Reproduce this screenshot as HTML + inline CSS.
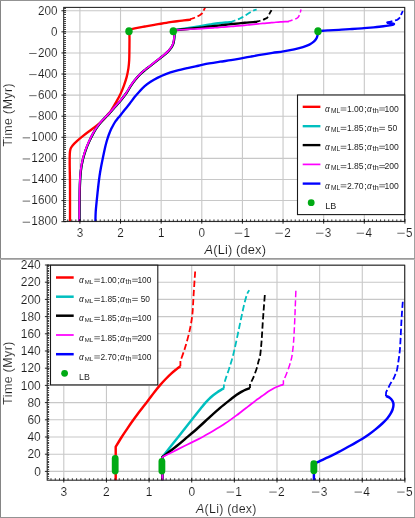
<!DOCTYPE html>
<html><head><meta charset="utf-8"><title>A(Li) vs Time</title>
<style>html,body{margin:0;padding:0;background:#fff;overflow:hidden;}svg{display:block;will-change:transform;}.thin{stroke:#fff;stroke-width:0.12px;paint-order:fill stroke;}</style></head>
<body>
<svg width="415" height="518" viewBox="0 0 415 518" font-family="Liberation Sans, sans-serif" fill="#000">
<rect x="0" y="0" width="415" height="518" fill="#fff"/>
<rect x="63.7" y="7.4" width="341.0" height="214.0" fill="#fff"/>
<path d="M79.90,7.4V221.4M120.53,7.4V221.4M161.16,7.4V221.4M201.79,7.4V221.4M242.42,7.4V221.4M283.05,7.4V221.4M323.68,7.4V221.4M364.31,7.4V221.4M404.94,7.4V221.4M63.7,10.76H404.7M63.7,31.85H404.7M63.7,52.94H404.7M63.7,74.03H404.7M63.7,95.12H404.7M63.7,116.21H404.7M63.7,137.30H404.7M63.7,158.39H404.7M63.7,179.48H404.7M63.7,200.57H404.7M63.7,221.66H404.7" stroke="#c8c8c8" stroke-width="1.1" fill="none"/>
<clipPath id="ct"><rect x="63.7" y="7.4" width="341.0" height="214.0"/></clipPath>
<g clip-path="url(#ct)" fill="none" stroke-linecap="butt" stroke-linejoin="round">
<path d="M129.40,31.50 C129.42,32.92 129.50,36.92 129.50,40.00 C129.50,43.08 129.45,46.67 129.40,50.00 C129.35,53.33 129.37,56.93 129.20,60.00 C129.03,63.07 128.82,65.58 128.40,68.40 C127.98,71.22 127.43,74.08 126.70,76.90 C125.97,79.72 125.02,82.50 124.00,85.30 C122.98,88.10 121.92,90.88 120.60,93.70 C119.28,96.52 117.70,99.38 116.10,102.20 C114.50,105.02 112.47,108.47 111.00,110.60 C109.53,112.73 108.77,113.28 107.30,115.00 C105.83,116.72 104.03,119.07 102.20,120.90 C100.37,122.73 98.42,124.32 96.30,126.00 C94.18,127.68 91.75,129.32 89.50,131.00 C87.25,132.68 84.90,134.42 82.80,136.10 C80.70,137.78 78.60,139.55 76.90,141.10 C75.20,142.65 73.65,144.13 72.60,145.40 C71.55,146.67 71.07,147.30 70.60,148.70 C70.13,150.10 69.95,150.98 69.80,153.80 C69.65,156.62 69.67,160.40 69.70,165.60 C69.73,170.80 69.95,175.60 70.00,185.00 C70.05,194.40 70.00,215.83 70.00,222.00" stroke="#ff0000" stroke-width="2.35"/>
<path d="M129.35,31.85 L129.35,29.46 C130.26,29.28 133.02,28.73 134.78,28.39 C136.55,28.05 138.25,27.72 139.93,27.40 C141.61,27.08 143.22,26.77 144.89,26.47 C146.55,26.16 148.19,25.87 149.94,25.57 C151.68,25.27 153.54,24.97 155.37,24.67 C157.19,24.36 159.07,24.04 160.89,23.73 C162.72,23.42 164.50,23.10 166.32,22.80 C168.15,22.50 170.07,22.21 171.85,21.94 C173.63,21.68 175.27,21.45 177.00,21.22 C178.73,20.99 180.51,20.76 182.24,20.56 C183.97,20.36 185.92,20.16 187.38,20.01 C188.84,19.86 190.40,19.71 191.00,19.65" stroke="#ff0000" stroke-width="2.35"/>
<path d="M191.00,19.65L191.00,18.96 L191.00,18.96 C191.24,18.89 191.62,18.81 192.43,18.51 C193.24,18.21 194.64,17.71 195.86,17.15 C197.09,16.60 198.69,15.83 199.77,15.17 C200.85,14.51 201.71,13.93 202.34,13.18 C202.98,12.42 203.12,11.56 203.58,10.64 C204.04,9.72 204.85,8.15 205.11,7.65" stroke="#ff0000" stroke-width="1.8" stroke-dasharray="6.0 2.7" stroke-dashoffset="1.0"/>
<path d="M174.30,31.62 C174.32,32.34 174.45,34.47 174.40,35.92 C174.35,37.37 174.22,38.95 174.00,40.32 C173.78,41.69 173.58,42.85 173.10,44.12 C172.62,45.39 171.88,46.75 171.10,47.92 C170.32,49.09 169.48,50.00 168.40,51.12 C167.32,52.24 166.02,53.42 164.60,54.62 C163.18,55.82 161.55,57.02 159.90,58.32 C158.25,59.62 156.40,61.09 154.70,62.42 C153.00,63.75 151.28,65.09 149.70,66.32 C148.12,67.55 146.82,68.47 145.20,69.82 C143.58,71.17 141.73,72.67 140.00,74.42 C138.27,76.17 136.37,78.35 134.80,80.32 C133.23,82.29 132.00,84.10 130.60,86.22 C129.20,88.34 127.95,90.77 126.40,93.02 C124.85,95.27 123.13,97.47 121.30,99.72 C119.47,101.97 117.50,104.12 115.40,106.52 C113.30,108.92 110.87,111.79 108.70,114.12 C106.53,116.45 104.30,118.39 102.40,120.52 C100.50,122.65 98.85,124.74 97.30,126.92 C95.75,129.10 94.50,131.09 93.10,133.62 C91.70,136.15 90.17,139.30 88.90,142.12 C87.63,144.94 86.48,147.72 85.50,150.52 C84.52,153.32 83.70,156.10 83.00,158.92 C82.30,161.74 81.73,164.60 81.30,167.42 C80.87,170.24 80.63,172.87 80.40,175.82 C80.17,178.77 80.03,181.07 79.90,185.12 C79.77,189.17 79.67,193.95 79.60,200.12 C79.53,206.29 79.52,218.45 79.50,222.12" stroke="#00bfbf" stroke-width="2.35"/>
<path d="M173.85,31.85 L173.85,30.21 C176.36,29.83 184.52,28.62 188.91,27.93 C193.29,27.25 197.15,26.58 200.15,26.09 C203.15,25.60 205.11,25.28 206.92,24.99 C208.73,24.69 209.74,24.53 211.01,24.33 C212.28,24.12 213.35,23.95 214.54,23.78 C215.73,23.60 216.92,23.44 218.16,23.28 C219.40,23.13 220.69,22.98 221.97,22.84 C223.26,22.71 224.64,22.57 225.88,22.46 C227.12,22.35 228.31,22.26 229.40,22.18 C230.50,22.10 231.94,22.01 232.45,21.97" stroke="#00bfbf" stroke-width="2.35"/>
<path d="M232.45,21.97L232.45,21.47 L232.45,21.47 C232.75,21.35 233.44,21.07 234.26,20.75 C235.09,20.43 236.46,19.93 237.41,19.56 C238.36,19.18 239.12,18.89 239.98,18.49 C240.84,18.09 241.60,17.69 242.55,17.15 C243.51,16.60 244.67,15.86 245.70,15.22 C246.73,14.57 247.71,13.93 248.75,13.29 C249.78,12.65 250.92,11.90 251.89,11.37 C252.86,10.84 253.77,10.41 254.56,10.12 C255.35,9.84 256.31,9.71 256.66,9.63" stroke="#00bfbf" stroke-width="1.8" stroke-dasharray="6.0 2.7" stroke-dashoffset="2.3"/>
<path d="M174.30,31.62 C174.32,32.34 174.45,34.47 174.40,35.92 C174.35,37.37 174.22,38.95 174.00,40.32 C173.78,41.69 173.58,42.85 173.10,44.12 C172.62,45.39 171.88,46.75 171.10,47.92 C170.32,49.09 169.48,50.00 168.40,51.12 C167.32,52.24 166.02,53.42 164.60,54.62 C163.18,55.82 161.55,57.02 159.90,58.32 C158.25,59.62 156.40,61.09 154.70,62.42 C153.00,63.75 151.28,65.09 149.70,66.32 C148.12,67.55 146.82,68.47 145.20,69.82 C143.58,71.17 141.73,72.67 140.00,74.42 C138.27,76.17 136.37,78.35 134.80,80.32 C133.23,82.29 132.00,84.10 130.60,86.22 C129.20,88.34 127.95,90.77 126.40,93.02 C124.85,95.27 123.13,97.47 121.30,99.72 C119.47,101.97 117.50,104.12 115.40,106.52 C113.30,108.92 110.87,111.79 108.70,114.12 C106.53,116.45 104.30,118.39 102.40,120.52 C100.50,122.65 98.85,124.74 97.30,126.92 C95.75,129.10 94.50,131.09 93.10,133.62 C91.70,136.15 90.17,139.30 88.90,142.12 C87.63,144.94 86.48,147.72 85.50,150.52 C84.52,153.32 83.70,156.10 83.00,158.92 C82.30,161.74 81.73,164.60 81.30,167.42 C80.87,170.24 80.63,172.87 80.40,175.82 C80.17,178.77 80.03,181.07 79.90,185.12 C79.77,189.17 79.67,193.95 79.60,200.12 C79.53,206.29 79.52,218.45 79.50,222.12" stroke="#000000" stroke-width="2.35"/>
<path d="M173.85,31.85 L173.85,30.21 C176.12,30.00 183.49,29.34 187.48,28.96 C191.46,28.58 194.32,28.28 197.77,27.92 C201.22,27.55 204.71,27.16 208.16,26.77 C211.60,26.37 215.00,25.95 218.45,25.55 C221.89,25.15 225.39,24.74 228.83,24.36 C232.28,23.99 236.49,23.57 239.12,23.30 C241.76,23.03 242.92,22.90 244.65,22.75 C246.38,22.59 248.06,22.47 249.51,22.37 C250.95,22.26 252.02,22.19 253.32,22.12 C254.62,22.05 256.66,21.97 257.32,21.94" stroke="#000000" stroke-width="2.35"/>
<path d="M257.32,21.94L257.32,21.45 L257.32,21.45 C257.80,21.33 259.13,21.06 260.18,20.75 C261.23,20.43 262.72,19.91 263.61,19.56 C264.50,19.20 264.96,18.88 265.52,18.61 C266.07,18.35 266.47,18.40 266.95,17.97 C267.42,17.54 267.96,16.73 268.38,16.04 C268.79,15.35 269.07,14.53 269.42,13.84 C269.77,13.16 270.12,12.54 270.47,11.91 C270.82,11.29 271.35,10.40 271.52,10.10" stroke="#000000" stroke-width="1.8" stroke-dasharray="6.0 2.7" stroke-dashoffset="2.3"/>
<path d="M174.10,31.50 C174.12,32.22 174.25,34.35 174.20,35.80 C174.15,37.25 174.02,38.83 173.80,40.20 C173.58,41.57 173.38,42.73 172.90,44.00 C172.42,45.27 171.68,46.63 170.90,47.80 C170.12,48.97 169.28,49.88 168.20,51.00 C167.12,52.12 165.82,53.30 164.40,54.50 C162.98,55.70 161.35,56.90 159.70,58.20 C158.05,59.50 156.20,60.97 154.50,62.30 C152.80,63.63 151.08,64.97 149.50,66.20 C147.92,67.43 146.62,68.35 145.00,69.70 C143.38,71.05 141.53,72.55 139.80,74.30 C138.07,76.05 136.17,78.23 134.60,80.20 C133.03,82.17 131.80,83.98 130.40,86.10 C129.00,88.22 127.75,90.65 126.20,92.90 C124.65,95.15 122.93,97.35 121.10,99.60 C119.27,101.85 117.30,104.00 115.20,106.40 C113.10,108.80 110.67,111.67 108.50,114.00 C106.33,116.33 104.10,118.27 102.20,120.40 C100.30,122.53 98.65,124.62 97.10,126.80 C95.55,128.98 94.30,130.97 92.90,133.50 C91.50,136.03 89.97,139.18 88.70,142.00 C87.43,144.82 86.28,147.60 85.30,150.40 C84.32,153.20 83.50,155.98 82.80,158.80 C82.10,161.62 81.53,164.48 81.10,167.30 C80.67,170.12 80.43,172.75 80.20,175.70 C79.97,178.65 79.83,180.95 79.70,185.00 C79.57,189.05 79.47,193.83 79.40,200.00 C79.33,206.17 79.32,218.33 79.30,222.00" stroke="#ff00ff" stroke-width="1.8499999999999999"/>
<path d="M173.85,31.85 L173.85,30.21 C176.12,30.08 183.49,29.64 187.48,29.40 C191.46,29.16 194.32,28.99 197.77,28.79 C201.22,28.58 205.38,28.34 208.16,28.17 C210.93,28.00 212.60,27.89 214.44,27.76 C216.29,27.63 217.62,27.54 219.21,27.42 C220.80,27.30 222.38,27.17 223.97,27.05 C225.56,26.92 227.15,26.80 228.74,26.67 C230.33,26.54 231.91,26.41 233.50,26.28 C235.09,26.14 236.44,26.03 238.27,25.86 C240.09,25.69 242.66,25.46 244.46,25.28 C246.25,25.11 247.51,24.98 249.03,24.83 C250.56,24.68 252.08,24.53 253.61,24.38 C255.13,24.22 256.66,24.06 258.18,23.91 C259.70,23.76 261.34,23.60 262.75,23.47 C264.17,23.34 265.25,23.24 266.66,23.11 C268.07,22.98 269.69,22.83 271.23,22.68 C272.77,22.54 274.36,22.39 275.90,22.27 C277.44,22.14 278.95,22.02 280.48,21.92 C282.00,21.83 283.61,21.75 285.05,21.68 C286.50,21.61 288.47,21.55 289.15,21.52" stroke="#ff00ff" stroke-width="1.7"/>
<path d="M289.15,21.52L289.15,20.98 L289.15,20.98 C289.48,20.90 290.29,20.75 291.15,20.49 C292.01,20.23 293.45,19.74 294.29,19.42 C295.14,19.11 295.69,18.85 296.20,18.61 C296.71,18.37 296.91,18.35 297.34,17.97 C297.77,17.59 298.36,17.01 298.77,16.32 C299.19,15.63 299.53,14.63 299.82,13.84 C300.11,13.06 300.28,12.35 300.49,11.64 C300.69,10.92 300.96,9.90 301.06,9.56" stroke="#ff00ff" stroke-width="1.5" stroke-dasharray="6.0 2.7" stroke-dashoffset="1.9"/>
<path d="M318.20,31.62 C318.12,32.13 317.97,33.61 317.70,34.70 C317.43,35.78 317.25,36.98 316.60,38.15 C315.95,39.32 315.00,40.64 313.80,41.71 C312.60,42.78 311.22,43.68 309.40,44.58 C307.58,45.47 305.43,46.32 302.90,47.10 C300.37,47.89 297.45,48.58 294.20,49.30 C290.95,50.01 287.02,50.78 283.40,51.39 C279.78,51.99 276.12,52.36 272.50,52.90 C268.88,53.44 265.32,53.99 261.70,54.60 C258.08,55.21 254.42,55.89 250.80,56.56 C247.18,57.23 243.32,57.99 240.00,58.60 C236.68,59.21 234.22,59.68 230.90,60.20 C227.58,60.72 223.72,61.16 220.10,61.70 C216.48,62.24 212.82,62.77 209.20,63.44 C205.58,64.11 202.02,64.96 198.40,65.73 C194.78,66.50 191.12,67.24 187.50,68.08 C183.88,68.91 180.32,69.72 176.70,70.73 C173.08,71.74 169.02,72.93 165.80,74.13 C162.58,75.33 159.93,76.63 157.40,77.92 C154.87,79.20 152.72,80.46 150.60,81.84 C148.48,83.22 146.52,84.63 144.70,86.19 C142.88,87.75 141.38,89.38 139.70,91.20 C138.02,93.02 136.28,95.00 134.60,97.10 C132.92,99.20 131.28,101.65 129.60,103.80 C127.92,105.95 126.02,108.10 124.50,110.00 C122.98,111.90 121.65,113.77 120.50,115.20 C119.35,116.63 118.42,117.60 117.60,118.60 C116.78,119.60 116.32,120.13 115.60,121.20 C114.88,122.27 114.00,123.77 113.30,125.00 C112.60,126.23 112.03,127.27 111.40,128.60 C110.77,129.93 110.07,131.57 109.50,133.00 C108.93,134.43 108.50,135.70 108.00,137.20 C107.50,138.70 106.97,140.37 106.50,142.00 C106.03,143.63 105.78,144.47 105.20,147.00 C104.62,149.53 103.70,153.82 103.00,157.20 C102.30,160.58 101.57,164.22 101.00,167.30 C100.43,170.38 100.03,172.75 99.60,175.70 C99.17,178.65 98.87,180.95 98.40,185.00 C97.93,189.05 97.25,195.50 96.80,200.00 C96.35,204.50 95.93,208.33 95.70,212.00 C95.47,215.67 95.45,220.33 95.40,222.00" stroke="#0000ff" stroke-width="2.35"/>
<path d="M318.21,31.85 L318.21,31.01 C319.00,30.96 321.37,30.83 322.97,30.73 C324.58,30.64 326.07,30.55 327.83,30.45 C329.60,30.35 331.26,30.26 333.55,30.13 C335.84,30.00 338.87,29.83 341.56,29.66 C344.24,29.50 346.97,29.30 349.65,29.13 C352.34,28.95 355.26,28.77 357.66,28.60 C360.06,28.44 361.90,28.32 364.04,28.16 C366.19,28.00 368.38,27.82 370.52,27.63 C372.67,27.43 374.76,27.22 376.91,27.00 C379.05,26.78 381.53,26.50 383.39,26.28 C385.24,26.05 386.74,25.86 388.06,25.66 C389.37,25.46 390.44,25.26 391.30,25.08 C392.15,24.89 392.74,24.74 393.20,24.56 C393.66,24.38 394.06,24.16 394.06,23.98 C394.06,23.81 393.80,23.68 393.20,23.53 C392.60,23.38 391.50,23.22 390.44,23.11 C389.37,23.01 387.42,22.94 386.82,22.90" stroke="#0000ff" stroke-width="2.35"/>
<path d="M386.82,22.90L387.01,22.44 L387.01,22.44 C387.32,22.36 388.20,22.15 388.91,21.97 C389.63,21.79 390.42,21.56 391.30,21.36 C392.17,21.16 393.38,20.95 394.15,20.76 C394.93,20.57 395.42,20.38 395.96,20.21 C396.50,20.03 396.90,19.99 397.39,19.70 C397.89,19.42 398.46,18.91 398.92,18.49 C399.38,18.07 399.82,17.68 400.16,17.17 C400.49,16.66 400.70,16.00 400.92,15.44 C401.14,14.89 401.28,14.38 401.49,13.87 C401.70,13.36 401.92,12.86 402.16,12.40 C402.40,11.93 402.79,11.31 402.92,11.09" stroke="#0000ff" stroke-width="1.8" stroke-dasharray="6.0 2.7" stroke-dashoffset="0.0"/>
</g>
<ellipse cx="129.0" cy="31.3" rx="3.7" ry="4.0" fill="#00aa14"/>
<ellipse cx="173.3" cy="31.3" rx="3.7" ry="4.0" fill="#00aa14"/>
<ellipse cx="318.0" cy="31.3" rx="3.7" ry="4.0" fill="#00aa14"/>
<rect x="63.7" y="7.4" width="341.0" height="214.0" fill="none" stroke="#222" stroke-width="1.05"/>
<path d="M79.90,219.0V223.70000000000002M120.53,219.0V223.70000000000002M161.16,219.0V223.70000000000002M201.79,219.0V223.70000000000002M242.42,219.0V223.70000000000002M283.05,219.0V223.70000000000002M323.68,219.0V223.70000000000002M364.31,219.0V223.70000000000002M404.94,219.0V223.70000000000002M61.400000000000006,10.76H66.10000000000001M61.400000000000006,31.85H66.10000000000001M61.400000000000006,52.94H66.10000000000001M61.400000000000006,74.03H66.10000000000001M61.400000000000006,95.12H66.10000000000001M61.400000000000006,116.21H66.10000000000001M61.400000000000006,137.30H66.10000000000001M61.400000000000006,158.39H66.10000000000001M61.400000000000006,179.48H66.10000000000001M61.400000000000006,200.57H66.10000000000001M61.400000000000006,221.66H66.10000000000001" stroke="#111" stroke-width="0.9" fill="none"/>
<path d="M67.71,219.4V221.4M71.77,219.4V221.4M75.84,219.4V221.4M79.90,219.4V221.4M83.96,219.4V221.4M88.03,219.4V221.4M92.09,219.4V221.4M96.15,219.4V221.4M100.22,219.4V221.4M104.28,219.4V221.4M108.34,219.4V221.4M112.40,219.4V221.4M116.47,219.4V221.4M120.53,219.4V221.4M124.59,219.4V221.4M128.66,219.4V221.4M132.72,219.4V221.4M136.78,219.4V221.4M140.85,219.4V221.4M144.91,219.4V221.4M148.97,219.4V221.4M153.03,219.4V221.4M157.10,219.4V221.4M161.16,219.4V221.4M165.22,219.4V221.4M169.29,219.4V221.4M173.35,219.4V221.4M177.41,219.4V221.4M181.48,219.4V221.4M185.54,219.4V221.4M189.60,219.4V221.4M193.66,219.4V221.4M197.73,219.4V221.4M201.79,219.4V221.4M205.85,219.4V221.4M209.92,219.4V221.4M213.98,219.4V221.4M218.04,219.4V221.4M222.11,219.4V221.4M226.17,219.4V221.4M230.23,219.4V221.4M234.29,219.4V221.4M238.36,219.4V221.4M242.42,219.4V221.4M246.48,219.4V221.4M250.55,219.4V221.4M254.61,219.4V221.4M258.67,219.4V221.4M262.74,219.4V221.4M266.80,219.4V221.4M270.86,219.4V221.4M274.92,219.4V221.4M278.99,219.4V221.4M283.05,219.4V221.4M287.11,219.4V221.4M291.18,219.4V221.4M295.24,219.4V221.4M299.30,219.4V221.4M303.37,219.4V221.4M307.43,219.4V221.4M311.49,219.4V221.4M315.55,219.4V221.4M319.62,219.4V221.4M323.68,219.4V221.4M327.74,219.4V221.4M331.81,219.4V221.4M335.87,219.4V221.4M339.93,219.4V221.4M344.00,219.4V221.4M348.06,219.4V221.4M352.12,219.4V221.4M356.18,219.4V221.4M360.25,219.4V221.4M364.31,219.4V221.4M368.37,219.4V221.4M372.44,219.4V221.4M376.50,219.4V221.4M380.56,219.4V221.4M384.62,219.4V221.4M388.69,219.4V221.4M392.75,219.4V221.4M396.81,219.4V221.4M400.88,219.4V221.4" stroke="#111" stroke-width="0.8" fill="none"/>
<path d="M63.7,8.5H66.0M63.7,10.5H66.0M63.7,12.5H66.0M63.7,14.5H66.0M63.7,17.5H66.0M63.7,19.5H66.0M63.7,21.5H66.0M63.7,23.5H66.0M63.7,25.5H66.0M63.7,27.5H66.0M63.7,29.5H66.0M63.7,31.5H66.0M63.7,33.5H66.0M63.7,36.5H66.0M63.7,38.5H66.0M63.7,40.5H66.0M63.7,42.5H66.0M63.7,44.5H66.0M63.7,46.5H66.0M63.7,48.5H66.0M63.7,50.5H66.0M63.7,52.5H66.0M63.7,55.5H66.0M63.7,57.5H66.0M63.7,59.5H66.0M63.7,61.5H66.0M63.7,63.5H66.0M63.7,65.5H66.0M63.7,67.5H66.0M63.7,69.5H66.0M63.7,71.5H66.0M63.7,74.5H66.0M63.7,76.5H66.0M63.7,78.5H66.0M63.7,80.5H66.0M63.7,82.5H66.0M63.7,84.5H66.0M63.7,86.5H66.0M63.7,88.5H66.0M63.7,90.5H66.0M63.7,93.5H66.0M63.7,95.5H66.0M63.7,97.5H66.0M63.7,99.5H66.0M63.7,101.5H66.0M63.7,103.5H66.0M63.7,105.5H66.0M63.7,107.5H66.0M63.7,109.5H66.0M63.7,111.5H66.0M63.7,114.5H66.0M63.7,116.5H66.0M63.7,118.5H66.0M63.7,120.5H66.0M63.7,122.5H66.0M63.7,124.5H66.0M63.7,126.5H66.0M63.7,128.5H66.0M63.7,130.5H66.0M63.7,133.5H66.0M63.7,135.5H66.0M63.7,137.5H66.0M63.7,139.5H66.0M63.7,141.5H66.0M63.7,143.5H66.0M63.7,145.5H66.0M63.7,147.5H66.0M63.7,149.5H66.0M63.7,152.5H66.0M63.7,154.5H66.0M63.7,156.5H66.0M63.7,158.5H66.0M63.7,160.5H66.0M63.7,162.5H66.0M63.7,164.5H66.0M63.7,166.5H66.0M63.7,168.5H66.0M63.7,171.5H66.0M63.7,173.5H66.0M63.7,175.5H66.0M63.7,177.5H66.0M63.7,179.5H66.0M63.7,181.5H66.0M63.7,183.5H66.0M63.7,185.5H66.0M63.7,187.5H66.0M63.7,190.5H66.0M63.7,192.5H66.0M63.7,194.5H66.0M63.7,196.5H66.0M63.7,198.5H66.0M63.7,200.5H66.0M63.7,202.5H66.0M63.7,204.5H66.0M63.7,206.5H66.0M63.7,209.5H66.0M63.7,211.5H66.0M63.7,213.5H66.0M63.7,215.5H66.0M63.7,217.5H66.0M63.7,219.5H66.0" stroke="#333" stroke-width="0.9" fill="none"/>
<text transform="translate(76.63,236.50) scale(0.955,1)" font-size="12.3" fill="#1c1c1c" class="thin">3</text>
<text transform="translate(117.26,236.50) scale(0.955,1)" font-size="12.3" fill="#1c1c1c" class="thin">2</text>
<text transform="translate(157.89,236.50) scale(0.955,1)" font-size="12.3" fill="#1c1c1c" class="thin">1</text>
<text transform="translate(198.52,236.50) scale(0.955,1)" font-size="12.3" fill="#1c1c1c" class="thin">0</text>
<line x1="234.80" y1="233.24" x2="242.20" y2="233.24" stroke="#1c1c1c" stroke-width="0.66"/>
<text transform="translate(243.50,236.50) scale(0.955,1)" font-size="12.3" fill="#1c1c1c" class="thin">1</text>
<line x1="275.43" y1="233.24" x2="282.83" y2="233.24" stroke="#1c1c1c" stroke-width="0.66"/>
<text transform="translate(284.13,236.50) scale(0.955,1)" font-size="12.3" fill="#1c1c1c" class="thin">2</text>
<line x1="316.06" y1="233.24" x2="323.46" y2="233.24" stroke="#1c1c1c" stroke-width="0.66"/>
<text transform="translate(324.76,236.50) scale(0.955,1)" font-size="12.3" fill="#1c1c1c" class="thin">3</text>
<line x1="356.69" y1="233.24" x2="364.09" y2="233.24" stroke="#1c1c1c" stroke-width="0.66"/>
<text transform="translate(365.39,236.50) scale(0.955,1)" font-size="12.3" fill="#1c1c1c" class="thin">4</text>
<line x1="397.32" y1="233.24" x2="404.72" y2="233.24" stroke="#1c1c1c" stroke-width="0.66"/>
<text transform="translate(406.02,236.50) scale(0.955,1)" font-size="12.3" fill="#1c1c1c" class="thin">5</text>
<text transform="translate(37.90,14.57) scale(0.955,1)" font-size="12.3" fill="#1c1c1c" class="thin">200</text>
<text transform="translate(50.97,35.66) scale(0.955,1)" font-size="12.3" fill="#1c1c1c" class="thin">0</text>
<line x1="29.20" y1="53.49" x2="36.60" y2="53.49" stroke="#1c1c1c" stroke-width="0.66"/>
<text transform="translate(37.90,56.74) scale(0.955,1)" font-size="12.3" fill="#1c1c1c" class="thin">200</text>
<line x1="29.20" y1="74.58" x2="36.60" y2="74.58" stroke="#1c1c1c" stroke-width="0.66"/>
<text transform="translate(37.90,77.84) scale(0.955,1)" font-size="12.3" fill="#1c1c1c" class="thin">400</text>
<line x1="29.20" y1="95.67" x2="36.60" y2="95.67" stroke="#1c1c1c" stroke-width="0.66"/>
<text transform="translate(37.90,98.93) scale(0.955,1)" font-size="12.3" fill="#1c1c1c" class="thin">600</text>
<line x1="29.20" y1="116.76" x2="36.60" y2="116.76" stroke="#1c1c1c" stroke-width="0.66"/>
<text transform="translate(37.90,120.02) scale(0.955,1)" font-size="12.3" fill="#1c1c1c" class="thin">800</text>
<line x1="22.67" y1="137.85" x2="30.07" y2="137.85" stroke="#1c1c1c" stroke-width="0.66"/>
<text transform="translate(31.37,141.11) scale(0.955,1)" font-size="12.3" fill="#1c1c1c" class="thin">1000</text>
<line x1="22.67" y1="158.94" x2="30.07" y2="158.94" stroke="#1c1c1c" stroke-width="0.66"/>
<text transform="translate(31.37,162.20) scale(0.955,1)" font-size="12.3" fill="#1c1c1c" class="thin">1200</text>
<line x1="22.67" y1="180.03" x2="30.07" y2="180.03" stroke="#1c1c1c" stroke-width="0.66"/>
<text transform="translate(31.37,183.28) scale(0.955,1)" font-size="12.3" fill="#1c1c1c" class="thin">1400</text>
<line x1="22.67" y1="201.12" x2="30.07" y2="201.12" stroke="#1c1c1c" stroke-width="0.66"/>
<text transform="translate(31.37,204.38) scale(0.955,1)" font-size="12.3" fill="#1c1c1c" class="thin">1600</text>
<line x1="22.67" y1="222.21" x2="30.07" y2="222.21" stroke="#1c1c1c" stroke-width="0.66"/>
<text transform="translate(31.37,225.47) scale(0.955,1)" font-size="12.3" fill="#1c1c1c" class="thin">1800</text>
<text x="235.3" y="254.4" font-size="12.8" text-anchor="middle" letter-spacing="0.17" fill="#1c1c1c" class="thin"><tspan font-style="italic">A</tspan>(Li) (dex)</text>
<text transform="translate(11.8,114.7) rotate(-90)" font-size="12.4" text-anchor="middle" letter-spacing="0.4" fill="#1c1c1c" class="thin">Time (Myr)</text>
<rect x="297.5" y="95.0" width="107.19999999999999" height="119.6" fill="#fff" stroke="#1a1a1a" stroke-width="1.1"/>
<line x1="302.7" y1="106.8" x2="320.4" y2="106.8" stroke="#ff0000" stroke-width="2.35"/>
<g fill="#1c1c1c">
<text x="325.00" y="111.80" font-size="8.20" font-style="italic">α</text>
<text x="330.90" y="112.80" font-size="6.30" textLength="9.20" lengthAdjust="spacingAndGlyphs">ML</text>
<path d="M340.67,107.95H346.37M340.67,110.05H346.37" stroke="#1c1c1c" stroke-width="0.62" fill="none"/>
<text x="346.88" y="111.80" font-size="8.55">1.00</text>
<text x="364.19" y="111.80" font-size="8.55">;</text>
<text x="366.94" y="111.80" font-size="8.20" font-style="italic">α</text>
<text x="372.44" y="112.80" font-size="6.62" textLength="6.40" lengthAdjust="spacingAndGlyphs">th</text>
<path d="M379.26,107.95H384.96M379.26,110.05H384.96" stroke="#1c1c1c" stroke-width="0.62" fill="none"/>
<text x="398.80" y="111.80" font-size="8.55" text-anchor="end">100</text>
</g>
<line x1="302.7" y1="126.2" x2="320.4" y2="126.2" stroke="#00bfbf" stroke-width="2.35"/>
<g fill="#1c1c1c">
<text x="325.00" y="131.20" font-size="8.20" font-style="italic">α</text>
<text x="330.90" y="132.20" font-size="6.30" textLength="9.20" lengthAdjust="spacingAndGlyphs">ML</text>
<path d="M340.67,127.35H346.37M340.67,129.45H346.37" stroke="#1c1c1c" stroke-width="0.62" fill="none"/>
<text x="346.88" y="131.20" font-size="8.55">1.85</text>
<text x="364.19" y="131.20" font-size="8.55">;</text>
<text x="366.94" y="131.20" font-size="8.20" font-style="italic">α</text>
<text x="372.44" y="132.20" font-size="6.62" textLength="6.40" lengthAdjust="spacingAndGlyphs">th</text>
<path d="M379.26,127.35H384.96M379.26,129.45H384.96" stroke="#1c1c1c" stroke-width="0.62" fill="none"/>
<text x="397.38" y="131.20" font-size="8.55" text-anchor="end">50</text>
</g>
<line x1="302.7" y1="145.1" x2="320.4" y2="145.1" stroke="#000000" stroke-width="2.35"/>
<g fill="#1c1c1c">
<text x="325.00" y="150.10" font-size="8.20" font-style="italic">α</text>
<text x="330.90" y="151.10" font-size="6.30" textLength="9.20" lengthAdjust="spacingAndGlyphs">ML</text>
<path d="M340.67,146.25H346.37M340.67,148.35H346.37" stroke="#1c1c1c" stroke-width="0.62" fill="none"/>
<text x="346.88" y="150.10" font-size="8.55">1.85</text>
<text x="364.19" y="150.10" font-size="8.55">;</text>
<text x="366.94" y="150.10" font-size="8.20" font-style="italic">α</text>
<text x="372.44" y="151.10" font-size="6.62" textLength="6.40" lengthAdjust="spacingAndGlyphs">th</text>
<path d="M379.26,146.25H384.96M379.26,148.35H384.96" stroke="#1c1c1c" stroke-width="0.62" fill="none"/>
<text x="398.80" y="150.10" font-size="8.55" text-anchor="end">100</text>
</g>
<line x1="302.7" y1="164.4" x2="320.4" y2="164.4" stroke="#ff00ff" stroke-width="1.7"/>
<g fill="#1c1c1c">
<text x="325.00" y="169.40" font-size="8.20" font-style="italic">α</text>
<text x="330.90" y="170.40" font-size="6.30" textLength="9.20" lengthAdjust="spacingAndGlyphs">ML</text>
<path d="M340.67,165.55H346.37M340.67,167.65H346.37" stroke="#1c1c1c" stroke-width="0.62" fill="none"/>
<text x="346.88" y="169.40" font-size="8.55">1.85</text>
<text x="364.19" y="169.40" font-size="8.55">;</text>
<text x="366.94" y="169.40" font-size="8.20" font-style="italic">α</text>
<text x="372.44" y="170.40" font-size="6.62" textLength="6.40" lengthAdjust="spacingAndGlyphs">th</text>
<path d="M379.26,165.55H384.96M379.26,167.65H384.96" stroke="#1c1c1c" stroke-width="0.62" fill="none"/>
<text x="398.80" y="169.40" font-size="8.55" text-anchor="end">200</text>
</g>
<line x1="302.7" y1="183.6" x2="320.4" y2="183.6" stroke="#0000ff" stroke-width="2.35"/>
<g fill="#1c1c1c">
<text x="325.00" y="188.60" font-size="8.20" font-style="italic">α</text>
<text x="330.90" y="189.60" font-size="6.30" textLength="9.20" lengthAdjust="spacingAndGlyphs">ML</text>
<path d="M340.67,184.75H346.37M340.67,186.85H346.37" stroke="#1c1c1c" stroke-width="0.62" fill="none"/>
<text x="346.88" y="188.60" font-size="8.55">2.70</text>
<text x="364.19" y="188.60" font-size="8.55">;</text>
<text x="366.94" y="188.60" font-size="8.20" font-style="italic">α</text>
<text x="372.44" y="189.60" font-size="6.62" textLength="6.40" lengthAdjust="spacingAndGlyphs">th</text>
<path d="M379.26,184.75H384.96M379.26,186.85H384.96" stroke="#1c1c1c" stroke-width="0.62" fill="none"/>
<text x="398.80" y="188.60" font-size="8.55" text-anchor="end">100</text>
</g>
<circle cx="311.2" cy="202.7" r="3.4" fill="#00aa14"/>
<text x="325.2" y="209.00" font-size="8.98" fill="#1c1c1c">LB</text>
<rect x="47.2" y="265.2" width="357.5" height="215.0" fill="#fff"/>
<path d="M63.80,265.2V480.2M106.44,265.2V480.2M149.08,265.2V480.2M191.72,265.2V480.2M234.36,265.2V480.2M277.00,265.2V480.2M319.64,265.2V480.2M362.28,265.2V480.2M404.92,265.2V480.2M47.2,265.00H404.7M47.2,282.20H404.7M47.2,299.40H404.7M47.2,316.60H404.7M47.2,333.80H404.7M47.2,351.00H404.7M47.2,368.20H404.7M47.2,385.40H404.7M47.2,402.60H404.7M47.2,419.80H404.7M47.2,437.00H404.7M47.2,454.20H404.7M47.2,471.40H404.7" stroke="#c8c8c8" stroke-width="1.1" fill="none"/>
<clipPath id="cb"><rect x="47.2" y="265.2" width="357.5" height="215.0"/></clipPath>
<g clip-path="url(#cb)" fill="none" stroke-linecap="butt" stroke-linejoin="round">
<path d="M115.70,481.00 L115.70,446.90 L115.70,446.90 C116.65,445.33 119.55,440.42 121.40,437.50 C123.25,434.58 125.03,432.02 126.80,429.40 C128.57,426.78 130.25,424.28 132.00,421.80 C133.75,419.32 135.47,416.95 137.30,414.50 C139.13,412.05 141.08,409.60 143.00,407.10 C144.92,404.60 146.88,402.03 148.80,399.50 C150.72,396.97 152.58,394.33 154.50,391.90 C156.42,389.47 158.43,387.05 160.30,384.90 C162.17,382.75 163.88,380.88 165.70,379.00 C167.52,377.12 169.38,375.25 171.20,373.60 C173.02,371.95 175.07,370.33 176.60,369.10 C178.13,367.87 179.77,366.68 180.40,366.20" stroke="#ff0000" stroke-width="2.45"/>
<path d="M180.40,366.20L180.40,360.60 L180.40,360.60 C180.65,360.00 181.05,359.38 181.90,357.00 C182.75,354.62 184.22,350.68 185.50,346.30 C186.78,341.92 188.47,335.92 189.60,330.70 C190.73,325.48 191.63,320.95 192.30,315.00 C192.97,309.05 193.12,302.37 193.60,295.00 C194.08,287.63 194.93,274.83 195.20,270.80" stroke="#ff0000" stroke-width="1.8" stroke-dasharray="6.3 2.8" stroke-dashoffset="1.0"/>
<path d="M162.40,481.00 L162.40,457.00 L162.40,457.00 C165.03,453.67 173.60,442.83 178.20,437.00 C182.80,431.17 186.85,426.00 190.00,422.00 C193.15,418.00 195.20,415.40 197.10,413.00 C199.00,410.60 200.07,409.25 201.40,407.60 C202.73,405.95 203.85,404.52 205.10,403.10 C206.35,401.68 207.60,400.37 208.90,399.10 C210.20,397.83 211.55,396.62 212.90,395.50 C214.25,394.38 215.70,393.30 217.00,392.40 C218.30,391.50 219.55,390.77 220.70,390.10 C221.85,389.43 223.37,388.68 223.90,388.40" stroke="#00bfbf" stroke-width="2.45"/>
<path d="M223.90,388.40L223.90,384.30 L223.90,384.30 C224.22,383.32 224.93,381.00 225.80,378.40 C226.67,375.80 228.10,371.77 229.10,368.70 C230.10,365.63 230.90,363.22 231.80,360.00 C232.70,356.78 233.50,353.70 234.50,349.40 C235.50,345.10 236.72,339.27 237.80,334.20 C238.88,329.13 239.92,324.05 241.00,319.00 C242.08,313.95 243.28,308.05 244.30,303.90 C245.32,299.75 246.27,296.38 247.10,294.10 C247.93,291.82 248.93,290.85 249.30,290.20" stroke="#00bfbf" stroke-width="1.8" stroke-dasharray="6.3 2.8" stroke-dashoffset="2.3"/>
<path d="M162.40,481.00 L162.40,457.00 L162.40,457.00 C164.78,455.17 172.52,449.35 176.70,446.00 C180.88,442.65 183.88,439.98 187.50,436.90 C191.12,433.82 194.78,430.72 198.40,427.50 C202.02,424.28 205.58,420.87 209.20,417.60 C212.82,414.33 216.48,410.97 220.10,407.90 C223.72,404.83 228.13,401.40 230.90,399.20 C233.67,397.00 234.88,395.97 236.70,394.70 C238.52,393.43 240.28,392.45 241.80,391.60 C243.32,390.75 244.43,390.18 245.80,389.60 C247.17,389.02 249.30,388.35 250.00,388.10" stroke="#000000" stroke-width="2.45"/>
<path d="M250.00,388.10L250.00,384.10 L250.00,384.10 C250.50,383.15 251.90,380.97 253.00,378.40 C254.10,375.83 255.67,371.60 256.60,368.70 C257.53,365.80 258.02,363.13 258.60,361.00 C259.18,358.87 259.60,359.28 260.10,355.90 C260.60,352.52 261.17,346.12 261.60,340.70 C262.03,335.28 262.33,328.82 262.70,323.40 C263.07,317.98 263.43,313.12 263.80,308.20 C264.17,303.28 264.72,296.28 264.90,293.90" stroke="#000000" stroke-width="1.8" stroke-dasharray="6.3 2.8" stroke-dashoffset="2.3"/>
<path d="M162.40,481.00 L162.40,457.00" stroke="#ff00ff" stroke-width="1.95"/>
<path d="M162.40,457.00 C164.78,455.82 172.52,451.98 176.70,449.90 C180.88,447.82 183.88,446.30 187.50,444.50 C191.12,442.70 195.48,440.58 198.40,439.10 C201.32,437.62 203.07,436.65 205.00,435.60 C206.93,434.55 208.33,433.77 210.00,432.80 C211.67,431.83 213.33,430.82 215.00,429.80 C216.67,428.78 218.33,427.75 220.00,426.70 C221.67,425.65 223.33,424.60 225.00,423.50 C226.67,422.40 228.08,421.45 230.00,420.10 C231.92,418.75 234.62,416.80 236.50,415.40 C238.38,414.00 239.70,412.93 241.30,411.70 C242.90,410.47 244.50,409.25 246.10,408.00 C247.70,406.75 249.30,405.43 250.90,404.20 C252.50,402.97 254.22,401.68 255.70,400.60 C257.18,399.52 258.32,398.77 259.80,397.70 C261.28,396.63 262.98,395.35 264.60,394.20 C266.22,393.05 267.88,391.83 269.50,390.80 C271.12,389.77 272.70,388.80 274.30,388.00 C275.90,387.20 277.58,386.55 279.10,386.00 C280.62,385.45 282.68,384.92 283.40,384.70" stroke="#ff00ff" stroke-width="1.75"/>
<path d="M283.40,384.70L283.40,380.30 L283.40,380.30 C283.75,379.63 284.60,378.42 285.50,376.30 C286.40,374.18 287.92,370.15 288.80,367.60 C289.68,365.05 290.27,362.95 290.80,361.00 C291.33,359.05 291.55,358.92 292.00,355.90 C292.45,352.88 293.07,348.32 293.50,342.90 C293.93,337.48 294.30,329.55 294.60,323.40 C294.90,317.25 295.08,311.63 295.30,306.00 C295.52,300.37 295.80,292.33 295.90,289.60" stroke="#ff00ff" stroke-width="1.5" stroke-dasharray="6.3 2.8" stroke-dashoffset="1.9"/>
<path d="M313.90,481.00 L313.90,464.00 L313.90,464.00 C314.73,463.60 317.22,462.42 318.90,461.60 C320.58,460.78 322.15,459.98 324.00,459.10 C325.85,458.22 327.60,457.45 330.00,456.30 C332.40,455.15 335.58,453.67 338.40,452.20 C341.22,450.73 344.08,449.05 346.90,447.50 C349.72,445.95 352.78,444.32 355.30,442.90 C357.82,441.48 359.75,440.40 362.00,439.00 C364.25,437.60 366.55,436.10 368.80,434.50 C371.05,432.90 373.25,431.23 375.50,429.40 C377.75,427.57 380.35,425.32 382.30,423.50 C384.25,421.68 385.82,420.13 387.20,418.50 C388.58,416.87 389.70,415.20 390.60,413.70 C391.50,412.20 392.12,410.98 392.60,409.50 C393.08,408.02 393.50,406.20 393.50,404.80 C393.50,403.40 393.23,402.28 392.60,401.10 C391.97,399.92 390.82,398.55 389.70,397.70 C388.58,396.85 386.53,396.28 385.90,396.00" stroke="#0000ff" stroke-width="2.45"/>
<path d="M385.90,396.00L386.10,392.20 L386.10,392.20 C386.43,391.57 387.35,389.87 388.10,388.40 C388.85,386.93 389.68,385.05 390.60,383.40 C391.52,381.75 392.78,380.07 393.60,378.50 C394.42,376.93 394.93,375.43 395.50,374.00 C396.07,372.57 396.48,372.23 397.00,369.90 C397.52,367.57 398.12,363.38 398.60,360.00 C399.08,356.62 399.55,353.60 399.90,349.60 C400.25,345.60 400.47,340.33 400.70,336.00 C400.93,331.67 401.08,327.60 401.30,323.60 C401.52,319.60 401.75,315.65 402.00,312.00 C402.25,308.35 402.67,303.42 402.80,301.70" stroke="#0000ff" stroke-width="1.8" stroke-dasharray="6.3 2.8" stroke-dashoffset="0.0"/>
</g>
<rect x="111.8" y="455.0" width="6.8" height="19.5" rx="3.4" ry="3.4" fill="#00aa14"/>
<rect x="158.5" y="458.0" width="6.8" height="16.5" rx="3.4" ry="3.4" fill="#00aa14"/>
<rect x="310.40000000000003" y="460.3" width="6.9" height="14.0" rx="3.45" ry="3.45" fill="#00aa14"/>
<rect x="47.2" y="265.2" width="357.5" height="215.0" fill="none" stroke="#222" stroke-width="1.05"/>
<path d="M63.80,477.8V482.5M106.44,477.8V482.5M149.08,477.8V482.5M191.72,477.8V482.5M234.36,477.8V482.5M277.00,477.8V482.5M319.64,477.8V482.5M362.28,477.8V482.5M404.92,477.8V482.5M44.900000000000006,265.00H49.2M44.900000000000006,282.20H49.2M44.900000000000006,299.40H49.2M44.900000000000006,316.60H49.2M44.900000000000006,333.80H49.2M44.900000000000006,351.00H49.2M44.900000000000006,368.20H49.2M44.900000000000006,385.40H49.2M44.900000000000006,402.60H49.2M44.900000000000006,419.80H49.2M44.900000000000006,437.00H49.2M44.900000000000006,454.20H49.2M44.900000000000006,471.40H49.2" stroke="#111" stroke-width="0.9" fill="none"/>
<path d="M51.01,478.2V480.2M55.27,478.2V480.2M59.54,478.2V480.2M63.80,478.2V480.2M68.06,478.2V480.2M72.33,478.2V480.2M76.59,478.2V480.2M80.86,478.2V480.2M85.12,478.2V480.2M89.38,478.2V480.2M93.65,478.2V480.2M97.91,478.2V480.2M102.18,478.2V480.2M106.44,478.2V480.2M110.70,478.2V480.2M114.97,478.2V480.2M119.23,478.2V480.2M123.50,478.2V480.2M127.76,478.2V480.2M132.02,478.2V480.2M136.29,478.2V480.2M140.55,478.2V480.2M144.82,478.2V480.2M149.08,478.2V480.2M153.34,478.2V480.2M157.61,478.2V480.2M161.87,478.2V480.2M166.14,478.2V480.2M170.40,478.2V480.2M174.66,478.2V480.2M178.93,478.2V480.2M183.19,478.2V480.2M187.46,478.2V480.2M191.72,478.2V480.2M195.98,478.2V480.2M200.25,478.2V480.2M204.51,478.2V480.2M208.78,478.2V480.2M213.04,478.2V480.2M217.30,478.2V480.2M221.57,478.2V480.2M225.83,478.2V480.2M230.10,478.2V480.2M234.36,478.2V480.2M238.62,478.2V480.2M242.89,478.2V480.2M247.15,478.2V480.2M251.42,478.2V480.2M255.68,478.2V480.2M259.94,478.2V480.2M264.21,478.2V480.2M268.47,478.2V480.2M272.74,478.2V480.2M277.00,478.2V480.2M281.26,478.2V480.2M285.53,478.2V480.2M289.79,478.2V480.2M294.06,478.2V480.2M298.32,478.2V480.2M302.58,478.2V480.2M306.85,478.2V480.2M311.11,478.2V480.2M315.38,478.2V480.2M319.64,478.2V480.2M323.90,478.2V480.2M328.17,478.2V480.2M332.43,478.2V480.2M336.70,478.2V480.2M340.96,478.2V480.2M345.22,478.2V480.2M349.49,478.2V480.2M353.75,478.2V480.2M358.02,478.2V480.2M362.28,478.2V480.2M366.54,478.2V480.2M370.81,478.2V480.2M375.07,478.2V480.2M379.34,478.2V480.2M383.60,478.2V480.2M387.86,478.2V480.2M392.13,478.2V480.2M396.39,478.2V480.2M400.66,478.2V480.2" stroke="#111" stroke-width="0.8" fill="none"/>
<path d="M47.2,266.5H49.1M47.2,268.5H49.1M47.2,270.5H49.1M47.2,271.5H49.1M47.2,273.5H49.1M47.2,275.5H49.1M47.2,277.5H49.1M47.2,278.5H49.1M47.2,280.5H49.1M47.2,282.5H49.1M47.2,283.5H49.1M47.2,285.5H49.1M47.2,287.5H49.1M47.2,289.5H49.1M47.2,290.5H49.1M47.2,292.5H49.1M47.2,294.5H49.1M47.2,295.5H49.1M47.2,297.5H49.1M47.2,299.5H49.1M47.2,301.5H49.1M47.2,302.5H49.1M47.2,304.5H49.1M47.2,306.5H49.1M47.2,308.5H49.1M47.2,309.5H49.1M47.2,311.5H49.1M47.2,313.5H49.1M47.2,314.5H49.1M47.2,316.5H49.1M47.2,318.5H49.1M47.2,320.5H49.1M47.2,321.5H49.1M47.2,323.5H49.1M47.2,325.5H49.1M47.2,326.5H49.1M47.2,328.5H49.1M47.2,330.5H49.1M47.2,332.5H49.1M47.2,333.5H49.1M47.2,335.5H49.1M47.2,337.5H49.1M47.2,338.5H49.1M47.2,340.5H49.1M47.2,342.5H49.1M47.2,344.5H49.1M47.2,345.5H49.1M47.2,347.5H49.1M47.2,349.5H49.1M47.2,351.5H49.1M47.2,352.5H49.1M47.2,354.5H49.1M47.2,356.5H49.1M47.2,357.5H49.1M47.2,359.5H49.1M47.2,361.5H49.1M47.2,363.5H49.1M47.2,364.5H49.1M47.2,366.5H49.1M47.2,368.5H49.1M47.2,369.5H49.1M47.2,371.5H49.1M47.2,373.5H49.1M47.2,375.5H49.1M47.2,376.5H49.1M47.2,378.5H49.1M47.2,380.5H49.1M47.2,381.5H49.1M47.2,383.5H49.1M47.2,385.5H49.1M47.2,387.5H49.1M47.2,388.5H49.1M47.2,390.5H49.1M47.2,392.5H49.1M47.2,394.5H49.1M47.2,395.5H49.1M47.2,397.5H49.1M47.2,399.5H49.1M47.2,400.5H49.1M47.2,402.5H49.1M47.2,404.5H49.1M47.2,406.5H49.1M47.2,407.5H49.1M47.2,409.5H49.1M47.2,411.5H49.1M47.2,412.5H49.1M47.2,414.5H49.1M47.2,416.5H49.1M47.2,418.5H49.1M47.2,419.5H49.1M47.2,421.5H49.1M47.2,423.5H49.1M47.2,424.5H49.1M47.2,426.5H49.1M47.2,428.5H49.1M47.2,430.5H49.1M47.2,431.5H49.1M47.2,433.5H49.1M47.2,435.5H49.1M47.2,437.5H49.1M47.2,438.5H49.1M47.2,440.5H49.1M47.2,442.5H49.1M47.2,443.5H49.1M47.2,445.5H49.1M47.2,447.5H49.1M47.2,449.5H49.1M47.2,450.5H49.1M47.2,452.5H49.1M47.2,454.5H49.1M47.2,455.5H49.1M47.2,457.5H49.1M47.2,459.5H49.1M47.2,461.5H49.1M47.2,462.5H49.1M47.2,464.5H49.1M47.2,466.5H49.1M47.2,467.5H49.1M47.2,469.5H49.1M47.2,471.5H49.1M47.2,473.5H49.1M47.2,474.5H49.1M47.2,476.5H49.1M47.2,478.5H49.1" stroke="#333" stroke-width="0.9" fill="none"/>
<text transform="translate(60.46,495.50) scale(0.93,1)" font-size="12.9" fill="#1c1c1c" class="thin">3</text>
<text transform="translate(103.10,495.50) scale(0.93,1)" font-size="12.9" fill="#1c1c1c" class="thin">2</text>
<text transform="translate(145.74,495.50) scale(0.93,1)" font-size="12.9" fill="#1c1c1c" class="thin">1</text>
<text transform="translate(188.38,495.50) scale(0.93,1)" font-size="12.9" fill="#1c1c1c" class="thin">0</text>
<line x1="226.67" y1="492.08" x2="234.07" y2="492.08" stroke="#1c1c1c" stroke-width="0.66"/>
<text transform="translate(235.37,495.50) scale(0.93,1)" font-size="12.9" fill="#1c1c1c" class="thin">1</text>
<line x1="269.31" y1="492.08" x2="276.71" y2="492.08" stroke="#1c1c1c" stroke-width="0.66"/>
<text transform="translate(278.01,495.50) scale(0.93,1)" font-size="12.9" fill="#1c1c1c" class="thin">2</text>
<line x1="311.95" y1="492.08" x2="319.35" y2="492.08" stroke="#1c1c1c" stroke-width="0.66"/>
<text transform="translate(320.65,495.50) scale(0.93,1)" font-size="12.9" fill="#1c1c1c" class="thin">3</text>
<line x1="354.59" y1="492.08" x2="361.99" y2="492.08" stroke="#1c1c1c" stroke-width="0.66"/>
<text transform="translate(363.29,495.50) scale(0.93,1)" font-size="12.9" fill="#1c1c1c" class="thin">4</text>
<line x1="397.23" y1="492.08" x2="404.63" y2="492.08" stroke="#1c1c1c" stroke-width="0.66"/>
<text transform="translate(405.93,495.50) scale(0.93,1)" font-size="12.9" fill="#1c1c1c" class="thin">5</text>
<text transform="translate(20.79,269.16) scale(0.93,1)" font-size="12.9" fill="#1c1c1c" class="thin">240</text>
<text transform="translate(20.79,286.36) scale(0.93,1)" font-size="12.9" fill="#1c1c1c" class="thin">220</text>
<text transform="translate(20.79,303.56) scale(0.93,1)" font-size="12.9" fill="#1c1c1c" class="thin">200</text>
<text transform="translate(20.79,320.76) scale(0.93,1)" font-size="12.9" fill="#1c1c1c" class="thin">180</text>
<text transform="translate(20.79,337.96) scale(0.93,1)" font-size="12.9" fill="#1c1c1c" class="thin">160</text>
<text transform="translate(20.79,355.16) scale(0.93,1)" font-size="12.9" fill="#1c1c1c" class="thin">140</text>
<text transform="translate(20.79,372.36) scale(0.93,1)" font-size="12.9" fill="#1c1c1c" class="thin">120</text>
<text transform="translate(20.79,389.56) scale(0.93,1)" font-size="12.9" fill="#1c1c1c" class="thin">100</text>
<text transform="translate(27.46,406.76) scale(0.93,1)" font-size="12.9" fill="#1c1c1c" class="thin">80</text>
<text transform="translate(27.46,423.96) scale(0.93,1)" font-size="12.9" fill="#1c1c1c" class="thin">60</text>
<text transform="translate(27.46,441.16) scale(0.93,1)" font-size="12.9" fill="#1c1c1c" class="thin">40</text>
<text transform="translate(27.46,458.36) scale(0.93,1)" font-size="12.9" fill="#1c1c1c" class="thin">20</text>
<text transform="translate(34.13,475.56) scale(0.93,1)" font-size="12.9" fill="#1c1c1c" class="thin">0</text>
<text x="226.4" y="513.0" font-size="12.4" text-anchor="middle" letter-spacing="0.25" fill="#1c1c1c" class="thin"><tspan font-style="italic">A</tspan>(Li) (dex)</text>
<text transform="translate(11.8,373.0) rotate(-90)" font-size="12.4" text-anchor="middle" letter-spacing="0.4" fill="#1c1c1c" class="thin">Time (Myr)</text>
<rect x="50.5" y="265.2" width="107.30000000000001" height="119.69999999999999" fill="#fff" stroke="#1a1a1a" stroke-width="1.1"/>
<line x1="56.0" y1="277.5" x2="73.7" y2="277.5" stroke="#ff0000" stroke-width="2.5"/>
<g fill="#1c1c1c">
<text x="78.90" y="283.00" font-size="8.40" font-style="italic">α</text>
<text x="84.70" y="284.00" font-size="6.20" textLength="8.40" lengthAdjust="spacingAndGlyphs">ML</text>
<path d="M94.30,279.20H99.90M94.30,281.30H99.90" stroke="#1c1c1c" stroke-width="0.62" fill="none"/>
<text x="100.40" y="283.00" font-size="8.40">1.00</text>
<text x="117.40" y="283.00" font-size="8.40">;</text>
<text x="120.10" y="283.00" font-size="8.40" font-style="italic">α</text>
<text x="125.50" y="284.00" font-size="6.51" textLength="6.00" lengthAdjust="spacingAndGlyphs">th</text>
<path d="M132.20,279.20H137.80M132.20,281.30H137.80" stroke="#1c1c1c" stroke-width="0.62" fill="none"/>
<text x="151.40" y="283.00" font-size="8.40" text-anchor="end">100</text>
</g>
<line x1="56.0" y1="296.7" x2="73.7" y2="296.7" stroke="#00bfbf" stroke-width="2.5"/>
<g fill="#1c1c1c">
<text x="78.90" y="302.20" font-size="8.40" font-style="italic">α</text>
<text x="84.70" y="303.20" font-size="6.20" textLength="8.40" lengthAdjust="spacingAndGlyphs">ML</text>
<path d="M94.30,298.40H99.90M94.30,300.50H99.90" stroke="#1c1c1c" stroke-width="0.62" fill="none"/>
<text x="100.40" y="302.20" font-size="8.40">1.85</text>
<text x="117.40" y="302.20" font-size="8.40">;</text>
<text x="120.10" y="302.20" font-size="8.40" font-style="italic">α</text>
<text x="125.50" y="303.20" font-size="6.51" textLength="6.00" lengthAdjust="spacingAndGlyphs">th</text>
<path d="M132.20,298.40H137.80M132.20,300.50H137.80" stroke="#1c1c1c" stroke-width="0.62" fill="none"/>
<text x="150.00" y="302.20" font-size="8.40" text-anchor="end">50</text>
</g>
<line x1="56.0" y1="315.7" x2="73.7" y2="315.7" stroke="#000000" stroke-width="2.5"/>
<g fill="#1c1c1c">
<text x="78.90" y="321.20" font-size="8.40" font-style="italic">α</text>
<text x="84.70" y="322.20" font-size="6.20" textLength="8.40" lengthAdjust="spacingAndGlyphs">ML</text>
<path d="M94.30,317.40H99.90M94.30,319.50H99.90" stroke="#1c1c1c" stroke-width="0.62" fill="none"/>
<text x="100.40" y="321.20" font-size="8.40">1.85</text>
<text x="117.40" y="321.20" font-size="8.40">;</text>
<text x="120.10" y="321.20" font-size="8.40" font-style="italic">α</text>
<text x="125.50" y="322.20" font-size="6.51" textLength="6.00" lengthAdjust="spacingAndGlyphs">th</text>
<path d="M132.20,317.40H137.80M132.20,319.50H137.80" stroke="#1c1c1c" stroke-width="0.62" fill="none"/>
<text x="151.40" y="321.20" font-size="8.40" text-anchor="end">100</text>
</g>
<line x1="56.0" y1="335.0" x2="73.7" y2="335.0" stroke="#ff00ff" stroke-width="1.75"/>
<g fill="#1c1c1c">
<text x="78.90" y="340.50" font-size="8.40" font-style="italic">α</text>
<text x="84.70" y="341.50" font-size="6.20" textLength="8.40" lengthAdjust="spacingAndGlyphs">ML</text>
<path d="M94.30,336.70H99.90M94.30,338.80H99.90" stroke="#1c1c1c" stroke-width="0.62" fill="none"/>
<text x="100.40" y="340.50" font-size="8.40">1.85</text>
<text x="117.40" y="340.50" font-size="8.40">;</text>
<text x="120.10" y="340.50" font-size="8.40" font-style="italic">α</text>
<text x="125.50" y="341.50" font-size="6.51" textLength="6.00" lengthAdjust="spacingAndGlyphs">th</text>
<path d="M132.20,336.70H137.80M132.20,338.80H137.80" stroke="#1c1c1c" stroke-width="0.62" fill="none"/>
<text x="151.40" y="340.50" font-size="8.40" text-anchor="end">200</text>
</g>
<line x1="56.0" y1="354.2" x2="73.7" y2="354.2" stroke="#0000ff" stroke-width="2.5"/>
<g fill="#1c1c1c">
<text x="78.90" y="359.70" font-size="8.40" font-style="italic">α</text>
<text x="84.70" y="360.70" font-size="6.20" textLength="8.40" lengthAdjust="spacingAndGlyphs">ML</text>
<path d="M94.30,355.90H99.90M94.30,358.00H99.90" stroke="#1c1c1c" stroke-width="0.62" fill="none"/>
<text x="100.40" y="359.70" font-size="8.40">2.70</text>
<text x="117.40" y="359.70" font-size="8.40">;</text>
<text x="120.10" y="359.70" font-size="8.40" font-style="italic">α</text>
<text x="125.50" y="360.70" font-size="6.51" textLength="6.00" lengthAdjust="spacingAndGlyphs">th</text>
<path d="M132.20,355.90H137.80M132.20,358.00H137.80" stroke="#1c1c1c" stroke-width="0.62" fill="none"/>
<text x="151.40" y="359.70" font-size="8.40" text-anchor="end">100</text>
</g>
<circle cx="64.6" cy="373.3" r="3.4" fill="#00aa14"/>
<text x="79.1" y="379.60" font-size="8.82" fill="#1c1c1c">LB</text>
<path d="M0.5,0V518" stroke="#858585" stroke-width="1" fill="none"/>
<path d="M0,0.5H415" stroke="#939393" stroke-width="1" fill="none"/>
<path d="M414.5,0V518" stroke="#a0a0a0" stroke-width="1" fill="none"/>
<path d="M0,517.5H415" stroke="#939393" stroke-width="1" fill="none"/>
<path d="M0,258.5H415" stroke="#9a9a9a" stroke-width="1" fill="none"/>
<path d="M0,259.5H415" stroke="#b4b4b4" stroke-width="1" fill="none"/>
</svg>
</body></html>
